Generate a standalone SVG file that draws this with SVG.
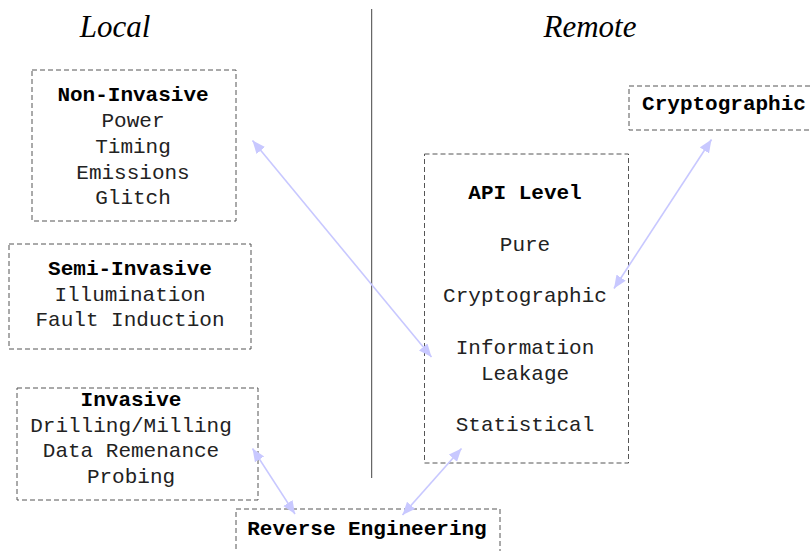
<svg xmlns="http://www.w3.org/2000/svg" width="811" height="551" viewBox="0 0 811 551">
<style>
.box{fill:none;stroke:#555;stroke-width:1;stroke-dasharray:5,3}
.t{font-family:"Liberation Mono","Courier New",monospace;font-size:21px;fill:#222;text-anchor:middle}
.b{font-weight:bold;fill:#000}
.h{font-family:"Liberation Serif","Times New Roman",serif;font-style:italic;font-size:31px;fill:#000;text-anchor:middle}
.c{stroke:#c8c8ff;stroke-width:1.6;fill:none;marker-start:url(#ah);marker-end:url(#ah)}
</style>
<defs>
<marker id="ah" markerUnits="userSpaceOnUse" markerWidth="14" markerHeight="12" refX="13" refY="5.5" orient="auto-start-reverse">
<path d="M0,0 L13,5.5 L0,11 z" fill="#c8c8ff"/>
</marker>
</defs>
<rect width="811" height="551" fill="#fff"/>
<text class="h" x="115" y="37">Local</text>
<text class="h" x="590" y="37">Remote</text>
<line x1="371.7" y1="9" x2="371.7" y2="478" stroke="#444" stroke-width="1"/>
<g id="non-invasive">
<rect class="box" x="32" y="70" width="204" height="151"/>
<text class="t b" x="133" y="101">Non-Invasive</text>
<text class="t" x="133" y="127">Power</text>
<text class="t" x="133" y="153">Timing</text>
<text class="t" x="133" y="179">Emissions</text>
<text class="t" x="133" y="204">Glitch</text>
</g>
<g id="semi-invasive">
<rect class="box" x="9" y="244" width="242" height="105"/>
<text class="t b" x="130" y="275">Semi-Invasive</text>
<text class="t" x="130" y="301">Illumination</text>
<text class="t" x="130" y="326">Fault Induction</text>
</g>
<g id="invasive">
<rect class="box" x="17" y="388" width="241" height="112"/>
<text class="t b" x="131" y="406">Invasive</text>
<text class="t" x="131" y="432">Drilling/Milling</text>
<text class="t" x="131" y="457">Data Remenance</text>
<text class="t" x="131" y="483">Probing</text>
</g>
<g id="cryptographic">
<rect class="box" x="629" y="86" width="200" height="44"/>
<text class="t b" x="724" y="110">Cryptographic</text>
</g>
<g id="api-level">
<rect class="box" x="424.5" y="154" width="204" height="309"/>
<text class="t b" x="525" y="199">API Level</text>
<text class="t" x="525" y="251">Pure</text>
<text class="t" x="525" y="302">Cryptographic</text>
<text class="t" x="525" y="354">Information</text>
<text class="t" x="525" y="380">Leakage</text>
<text class="t" x="525" y="431">Statistical</text>
</g>
<g id="reverse-engineering">
<rect class="box" x="236" y="509" width="264" height="60"/>
<text class="t b" x="367" y="535">Reverse Engineering</text>
</g>
<g id="connectors">
<line class="c" x1="252.5" y1="140.5" x2="431.5" y2="357"/>
<line class="c" x1="711.5" y1="139.5" x2="614" y2="288.5"/>
<line class="c" x1="252.5" y1="448.5" x2="295" y2="514"/>
<line class="c" x1="461.5" y1="448.5" x2="402.5" y2="515"/>
</g>
</svg>
